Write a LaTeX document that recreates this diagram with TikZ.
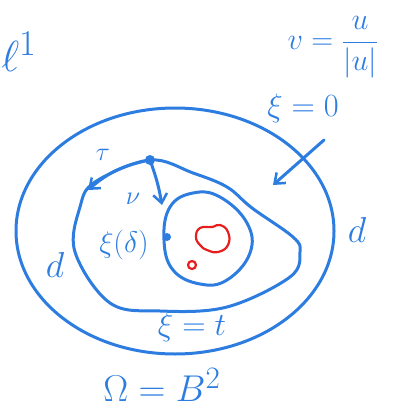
\documentclass[tikz,border=0pt]{standalone}
\usetikzlibrary{arrows.meta}
\definecolor{pen}{RGB}{45,125,225}
\definecolor{redpen}{RGB}{230,30,30}
\begin{document}
\begin{tikzpicture}[x=1pt,y=-1pt,
  stroke/.style={draw=pen,line width=3pt,line cap=round,line join=round},
  redstroke/.style={draw=redpen,line width=2.2pt,line cap=round,line join=round},
  arr/.style={stroke,-{Straight Barb[length=9pt,width=14pt,line width=2.5pt]}},
  lbl/.style={text=pen,inner sep=0pt,font=\Huge}]
\useasboundingbox (0,0) rectangle (393,412);
% outer ellipse
\draw[stroke] (175,231) ellipse [x radius=159,y radius=123];
% middle loop
\draw[stroke] plot[smooth cycle,tension=0.6] coordinates {(150,160) (193,173) (227,187) (252,208) (293,237) (300,252) (290,277) (227,307) (160,311) (110,303) (75,252) (80,207) (95,182)};
% inner loop
\draw[stroke] plot[smooth cycle,tension=0.7] coordinates {(193,193) (220,197) (247,223) (250,253) (227,280) (200,284) (173,270) (164,240) (170,207)};
% red blobs
\draw[redstroke] plot[smooth cycle,tension=0.8] coordinates {(200,228) (212,227) (220,225) (228,232) (228,245) (218,252) (207,250) (200,245) (196,237)};
\draw[redstroke] (192,265) circle [radius=4];
% point and arrows
\fill[pen] (150,160) circle [radius=5] coordinate (p);
\coordinate (tau) at (88,190);
\coordinate (nu) at (162,205);
\draw[arr] (p) to[bend right=15] (tau);
\draw[arr] (p) to[bend left=5] (nu);
\fill[pen] (167,237) circle [radius=4] node (xd) {};
\coordinate (a1) at (324,140);
\coordinate (a2) at (273,185);
\draw[arr] (a1) -- (a2);
% labels
\node[lbl,anchor=west,scale=1.75] (ell) at (1,52) {$\ell^{1}$};
\node[lbl,scale=1.22] (v) at (333,47) {$v=\displaystyle\frac{u}{|u|}$};
\node[lbl,scale=1.3] (xi0) at (303,108) {$\xi=0$};
\node[lbl,scale=1.05] (t) at (103,155) {$\tau$};
\node[lbl,scale=1.05] (n) at (133,199) {$\nu$};
\node[lbl,scale=1.2] (xid) at (124,245) {$\xi(\delta)$};
\node[lbl,scale=1.45] (dl) at (55,265) {$d$};
\node[lbl,scale=1.45] (dr) at (357,230) {$d$};
\node[lbl,scale=1.3] (xit) at (192,327) {$\xi=t$};
\node[lbl,scale=1.5] (om) at (162,385) {$\Omega=B^{2}$};
\end{tikzpicture}
\end{document}
